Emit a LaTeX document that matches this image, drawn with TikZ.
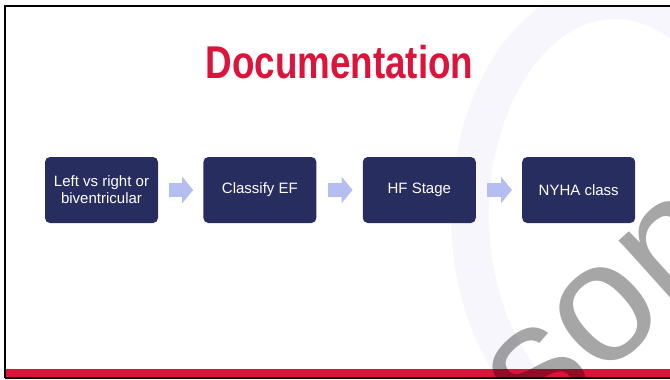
\documentclass[tikz,border=0pt]{standalone}
\usepackage{fontspec}
\setmainfont{Liberation Sans}
\newfontfamily\headfont[FakeStretch=0.8]{Liberation Sans}
\usetikzlibrary{arrows.meta,positioning}
\definecolor{cRed}{HTML}{DC143C}
\definecolor{cNavy}{HTML}{282D5F}
\definecolor{cLav}{HTML}{B4BEF0}
\definecolor{cMist}{HTML}{F6F6FC}
\tikzset{
  card/.style={rounded corners=5pt,fill=cNavy,text=white,align=center,
              minimum width=113pt,minimum height=66pt,inner sep=2pt,
              font=\fontsize{15}{17}\selectfont},
  nextarrow/.style={-{Triangle[length=11pt,width=26pt]},line width=14pt,
              cLav,shorten <=11pt,shorten >=10pt},
  wmark/.style={rotate=42,text=black,text opacity=0.35,inner sep=0pt,
              font=\fontsize{170}{170}\selectfont},
}

\begin{document}
\begin{tikzpicture}[x=1pt,y=-1pt]
  \useasboundingbox (0,0) rectangle (670,380);
  \begin{scope}
    \clip (5,6) rectangle (670,378);
    % faint ring in the background
    \draw[cMist,line width=38pt] (615,215) ellipse [x radius=145,y radius=215];
    % footer bar
    \fill[cRed] (5,369) rectangle (670,377);
  \end{scope}
  \draw[line width=2pt] (5,378) -- (5,6) -- (670,6);
  \draw[line width=2pt] (5,378) -- (670,378);

  \node[font=\headfont\bfseries\fontsize{46}{50}\selectfont,text=cRed]
    (title) at (339.5,62) {Documentation};

  % documentation steps
  \node[card] (side) at (101.5,190) {Left vs right or\\biventricular};
  \node[card,right=45pt of side] (ef) {Classify EF};
  \node[card,right=46pt of ef] (stage) {HF Stage};
  \node[card,right=46pt of stage] (nyha) {NYHA class};
  \draw[nextarrow] (side) -- (ef);
  \draw[nextarrow] (ef) -- (stage);
  \draw[nextarrow] (stage) -- (nyha);

  \begin{scope}
    \clip (5,6) rectangle (670,378);
    \node[wmark] (wm) at (609,311) {son};
  \end{scope}
\end{tikzpicture}
\end{document}
